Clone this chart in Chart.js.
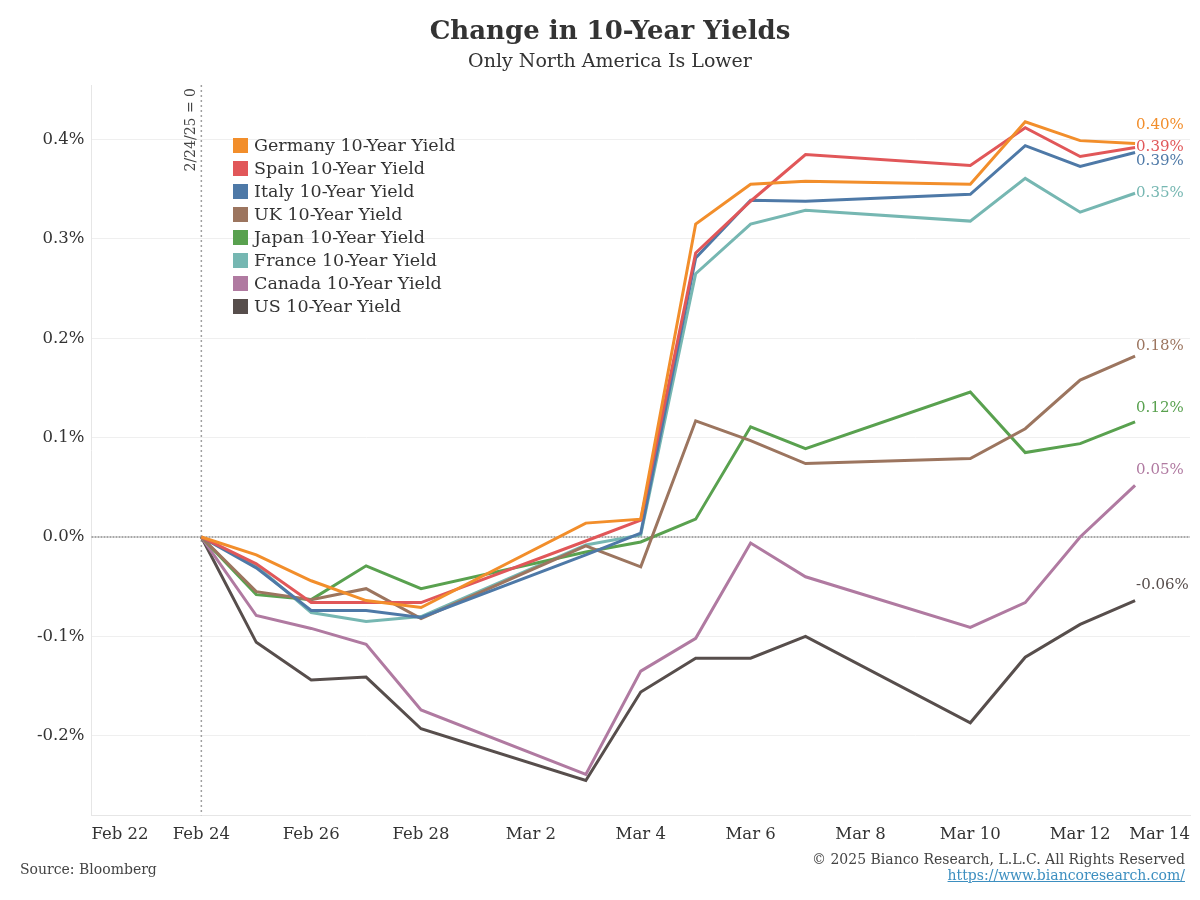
<!DOCTYPE html>
<html>
<head>
<meta charset="utf-8">
<script src="https://cdn.jsdelivr.net/npm/chart.js@4.4.1/dist/chart.umd.min.js"></script>
<style>
  body { margin: 0; background: #fff; font-family: "DejaVu Serif", serif; color: #333; }
  #wrap { position: relative; width: 1200px; height: 900px; }
  #legend { position: absolute; left: 233px; top: 134px; font-size: 17.5px; }
  #legend div { height: 23px; line-height: 23px; white-space: nowrap; }
  #legend span { display: inline-block; width: 15px; height: 15px; margin-right: 6px; vertical-align: -2px; }
  .foot { position: absolute; font-size: 14px; color: #444; }
  .foot a { color: #3d8fc0; }
</style>
</head>
<body>
<div id="wrap">
  <canvas id="myChart" width="1200" height="900"></canvas>
  <div id="legend"></div>
  <div class="foot" style="left:20px; top:861px;">Source: Bloomberg</div>
  <div class="foot" style="right:15px; top:851px; text-align:right;">© 2025 Bianco Research, L.L.C. All Rights Reserved<br><a href="https://www.biancoresearch.com/">https://www.biancoresearch.com/</a></div>
</div>
<script>
// dates of the observations
let dates = ['2025-02-24', '2025-02-25', '2025-02-26', '2025-02-27', '2025-02-28',
  '2025-03-03', '2025-03-04', '2025-03-05', '2025-03-06', '2025-03-07',
  '2025-03-10', '2025-03-11', '2025-03-12', '2025-03-13']

// change in yield since 2/24/25, in percentage points
let germany = [0, -0.018, -0.044, -0.064, -0.071, 0.014, 0.018, 0.315, 0.355, 0.358, 0.355, 0.418, 0.399, 0.396]
let spain = [0, -0.027, -0.066, -0.066, -0.066, -0.004, 0.017, 0.286, 0.338, 0.385, 0.374, 0.412, 0.383, 0.392]
let italy = [0, -0.031, -0.074, -0.074, -0.081, -0.018, 0.004, 0.281, 0.339, 0.338, 0.345, 0.394, 0.373, 0.387]
let uk = [0, -0.055, -0.063, -0.052, -0.082, -0.009, -0.030, 0.117, 0.097, 0.074, 0.079, 0.109, 0.158, 0.182]
let japan = [0, -0.058, -0.063, -0.029, -0.052, -0.015, -0.005, 0.018, 0.111, 0.089, 0.146, 0.085, 0.094, 0.116]
let france = [0, -0.029, -0.076, -0.085, -0.080, -0.008, 0.002, 0.265, 0.315, 0.329, 0.318, 0.361, 0.327, 0.346]
let canada = [0, -0.079, -0.092, -0.108, -0.174, -0.239, -0.135, -0.102, -0.006, -0.040, -0.091, -0.066, 0.000, 0.052]
let us = [0, -0.106, -0.144, -0.141, -0.193, -0.245, -0.156, -0.122, -0.122, -0.100, -0.187, -0.121, -0.088, -0.064]

let names = ['Germany 10-Year Yield', 'Spain 10-Year Yield', 'Italy 10-Year Yield', 'UK 10-Year Yield',
  'Japan 10-Year Yield', 'France 10-Year Yield', 'Canada 10-Year Yield', 'US 10-Year Yield']
let series = [germany, spain, italy, uk, japan, france, canada, us]

// x tick labels, every 2 days starting Feb 22
let xTickLabels = ['Feb 22', 'Feb 24', 'Feb 26', 'Feb 28', 'Mar 2', 'Mar 4', 'Mar 6', 'Mar 8', 'Mar 10', 'Mar 12', 'Mar 14']
let yTicks = [-0.2, -0.1, 0, 0.1, 0.2, 0.3, 0.4]

// styling
let colors = ['#f28e2b', '#e15759', '#4e79a7', '#9c755f', '#59a14f', '#76b7b2', '#b07aa1', '#574e4c']
let labelNudge = [-19, 0, 9, -10, -14, 0, -15, -16] // vertical shift of end labels so they don't collide
let serif = '"DejaVu Serif", serif'

// day number counted from Feb 22
let start = Date.UTC(2025, 1, 22)
let dayOf = d => (Date.parse(d + 'T00:00:00Z') - start) / 86400000
let baseDay = dayOf('2025-02-24')

// legend (html, inside the plot)
let legend = document.getElementById('legend')
names.forEach((n, i) => {
  legend.innerHTML += `<div><span style="background:${colors[i]}"></span>${n}</div>`
})

let refLines = {
  id: 'refLines',
  beforeDatasetsDraw(chart) {
    let { ctx, chartArea, scales } = chart
    ctx.save()
    // zero line
    let y0 = scales.y.getPixelForValue(0)
    ctx.strokeStyle = '#8a8a8a'
    ctx.lineWidth = 1.5
    ctx.setLineDash([2, 1])
    ctx.beginPath()
    ctx.moveTo(chartArea.left, y0)
    ctx.lineTo(chartArea.right, y0)
    ctx.stroke()
    // base date line
    let xb = scales.x.getPixelForValue(baseDay)
    ctx.strokeStyle = '#a0a0a0'
    ctx.setLineDash([2, 3])
    ctx.beginPath()
    ctx.moveTo(xb, chartArea.top)
    ctx.lineTo(xb, chartArea.bottom)
    ctx.stroke()
    ctx.setLineDash([])
    ctx.translate(xb - 10, chartArea.top + 3)
    ctx.rotate(-Math.PI / 2)
    ctx.fillStyle = '#444'
    ctx.font = '14px ' + serif
    ctx.textAlign = 'right'
    ctx.textBaseline = 'middle'
    ctx.fillText('2/24/25 = 0', 0, 0)
    ctx.restore()
  }
}

let endLabels = {
  id: 'endLabels',
  afterDatasetsDraw(chart) {
    let ctx = chart.ctx
    ctx.save()
    ctx.font = '15px ' + serif
    ctx.textAlign = 'left'
    ctx.textBaseline = 'middle'
    chart.data.datasets.forEach((ds, i) => {
      let pts = chart.getDatasetMeta(i).data
      let p = pts[pts.length - 1]
      let v = ds.data[ds.data.length - 1].y
      ctx.fillStyle = colors[i]
      ctx.fillText(v.toFixed(2) + '%', p.x + 1, p.y + labelNudge[i])
    })
    ctx.restore()
  }
}

const ctx = document.getElementById('myChart')

new Chart(ctx, {
  type: 'line',
  data: {
    datasets: series.map((s, i) => ({
      label: names[i],
      data: s.map((v, j) => ({ x: dayOf(dates[j]), y: v })),
      borderColor: colors[i],
      backgroundColor: colors[i],
      borderWidth: 3,
      pointRadius: 0,
      tension: 0
    }))
  },
  options: {
    responsive: false,
    animation: false,
    layout: { padding: { left: 30, right: 10, top: 0, bottom: 53 } },
    plugins: {
      legend: { display: false },
      tooltip: { enabled: false },
      title: {
        display: true,
        text: 'Change in 10-Year Yields',
        color: '#333',
        font: { family: serif, size: 26, weight: 'bold' },
        padding: { top: 17, bottom: 2 }
      },
      subtitle: {
        display: true,
        text: 'Only North America Is Lower',
        color: '#333',
        font: { family: serif, size: 19 },
        padding: { top: 0, bottom: 12 }
      }
    },
    scales: {
      x: {
        type: 'linear',
        min: 0,
        max: 20,
        grid: { display: false },
        border: { color: '#e6e6e6' },
        ticks: {
          stepSize: 2,
          align: 'inner',
          color: '#333',
          font: { family: serif, size: 16.5 },
          padding: 2,
          callback: v => xTickLabels[v / 2]
        }
      },
      y: {
        min: -0.28,
        max: 0.455,
        afterBuildTicks: axis => { axis.ticks = yTicks.map(v => ({ value: v })) },
        grid: {
          color: c => c.tick && c.tick.value === 0 ? 'rgba(0,0,0,0)' : '#efefef',
          drawTicks: false
        },
        border: { color: '#e6e6e6' },
        ticks: {
          color: '#333',
          font: { family: serif, size: 16.5 },
          padding: 7,
          callback: v => v.toFixed(1) + '%'
        }
      }
    }
  },
  plugins: [refLines, endLabels]
})
</script>
</body>
</html>
